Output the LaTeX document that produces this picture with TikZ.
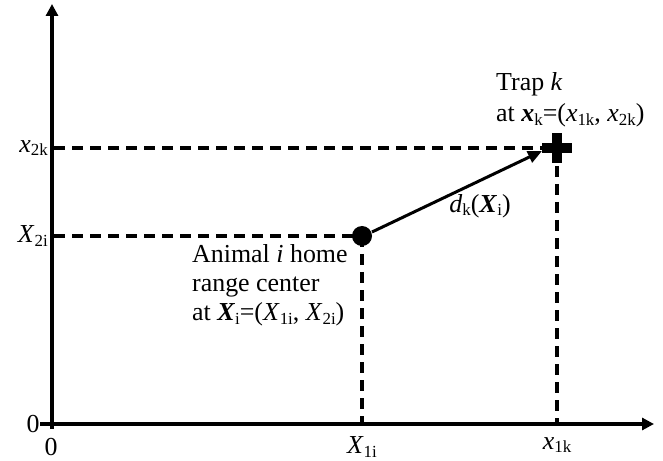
\documentclass[tikz,border=0pt]{standalone}
\usepackage{fontspec}
\setmainfont{Liberation Serif}
\usetikzlibrary{arrows.meta}
\newcommand\tsub[1]{\raisebox{-0.3ex}{\fontsize{17}{17}\selectfont #1}}
\newcommand\bi[1]{\textbf{\textit{#1}}}
\begin{document}
\begin{tikzpicture}[x=1bp,y=-1bp,
  axis/.style={line width=3.2bp,-{Triangle[length=12bp,width=12bp]}},
  guide/.style={line width=3.3bp,dash pattern=on 11bp off 7bp},
  lbl/.style={font=\fontsize{26}{29}\selectfont,inner sep=0pt},
  txt/.style={font=\fontsize{26}{29}\selectfont,inner sep=0pt,anchor=base west}]
\useasboundingbox (0,0) rectangle (663,461);
% axes
\coordinate (xs) at (40,424);
\coordinate (xe) at (654,424);
\coordinate (ys) at (52,429);
\coordinate (ye) at (52,4);
\draw[axis] (xs) -- (xe);
\draw[axis] (ys) -- (ye);
% points
\coordinate (A) at (362,236);
\coordinate (T) at (557,148);
\coordinate (A1) at (362,424);
\coordinate (A2) at (54,236);
\coordinate (T1) at (557,424);
\coordinate (T2) at (54,148);
\draw[guide] (A2) -- (A);
\draw[guide] (A) -- (A1);
\draw[guide] (T2) -- (T);
\draw[guide] (T) -- (T1);
% animal center
\node (ac) [circle,fill=black,minimum size=20bp,inner sep=0pt] at (A) {};
% trap plus
\fill (T) ++(-15,-5) rectangle ++(30,10);
\fill (T) ++(-5,-15) rectangle ++(10,30);
\path (ac.center) ++(10,-4) coordinate (as);
\coordinate (ae) at (542,151);
\draw[line width=3bp,-{Triangle[length=14bp,width=12bp]}] (as) -- (ae);
% labels
\node[lbl] (l0y) at (33,424) {0};
\node[lbl,anchor=base] (l0x) at (51,455) {0};
\node[lbl] (lx1i) at (362,447) {\textit{X}\tsub{1i}};
\node[lbl] (lx1k) at (557,445) {\textit{x}\tsub{1k}};
\node[lbl,anchor=east] (lx2k) at (48,148) {\textit{x}\tsub{2k}};
\node[lbl,anchor=east] (lx2i) at (48,236) {\textit{X}\tsub{2i}};
\node[lbl] (ld) at (480,206) {\textit{d}\tsub{k}(\bi{X}\tsub{i})};
\node[txt] (la1) at (192,263) {Animal \textit{i} home};
\node[txt] (la2) at (192,292) {range center};
\node[txt] (la3) at (192,321) {at \bi{X}\tsub{i}=(\textit{X}\tsub{1i}, \textit{X}\tsub{2i})};
\node[txt] (lt1) at (496,91) {Trap \textit{k}};
\node[txt] (lt2) at (496,122) {at \bi{x}\tsub{k}=(\textit{x}\tsub{1k}, \textit{x}\tsub{2k})};
\end{tikzpicture}
\end{document}
